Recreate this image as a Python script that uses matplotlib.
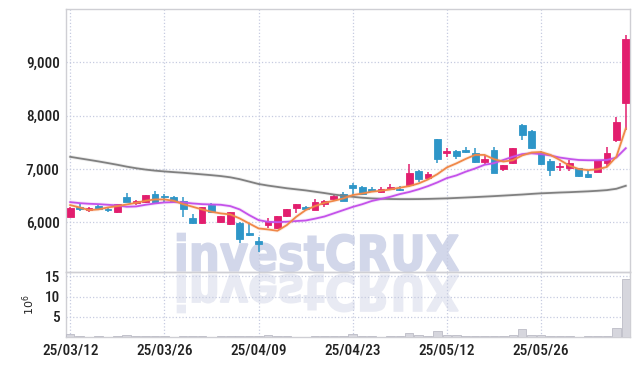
#!/usr/bin/env python3

import matplotlib
matplotlib.use( 'Agg' )
import matplotlib.pyplot as plt
from matplotlib import font_manager
from matplotlib.font_manager import FontProperties
from matplotlib.patches import PathPatch
from matplotlib.textpath import TextPath
from matplotlib.transforms import Affine2D
from matplotlib.ticker import FuncFormatter

# trading days (KRX), one candle each
dates = [
    '25/03/12', '25/03/13', '25/03/14', '25/03/17', '25/03/18', '25/03/19', '25/03/20', '25/03/21',
    '25/03/24', '25/03/25', '25/03/26', '25/03/27', '25/03/28', '25/03/31', '25/04/01', '25/04/02',
    '25/04/03', '25/04/04', '25/04/07', '25/04/08', '25/04/09', '25/04/10', '25/04/11', '25/04/14',
    '25/04/15', '25/04/16', '25/04/17', '25/04/18', '25/04/21', '25/04/22', '25/04/23', '25/04/24',
    '25/04/25', '25/04/28', '25/04/29', '25/04/30', '25/05/02', '25/05/07', '25/05/08', '25/05/09',
    '25/05/12', '25/05/13', '25/05/14', '25/05/15', '25/05/16', '25/05/19', '25/05/20', '25/05/21',
    '25/05/22', '25/05/23', '25/05/26', '25/05/27', '25/05/28', '25/05/29', '25/05/30', '25/06/02',
    '25/06/04', '25/06/05', '25/06/09', '25/06/10',
]

opens = [
    6105, 6293, 6230, 6305, 6255, 6186, 6467, 6361, 6374, 6530,
    6492, 6480, 6405, 6074, 5980, 6324, 6012, 5962, 5993, 5806,
    5650, 5943, 5887, 6124, 6261, 6280, 6230, 6343, 6430, 6530,
    6699, 6655, 6618, 6574, 6618, 6630, 6699, 6967, 6836, 7554,
    7292, 7342, 7355, 7292, 7136, 7354, 7000, 7105, 7822, 7710,
    7310, 7155, 7030, 7023, 7011, 6905, 6949, 7117, 7541, 8247,
]
highs = [
    6290, 6343, 6280, 6320, 6292, 6350, 6542, 6417, 6520, 6592,
    6530, 6500, 6480, 6149, 6290, 6355, 6125, 6200, 5999, 5993,
    5731, 6074, 6125, 6260, 6350, 6305, 6430, 6420, 6510, 6561,
    6743, 6680, 6655, 6655, 6718, 6680, 7092, 6980, 6949, 7570,
    7386, 7360, 7417, 7386, 7261, 7404, 7080, 7400, 7841, 7741,
    7342, 7180, 7117, 7167, 7020, 6980, 7175, 7417, 7979, 9508,
]
lows = [
    6100, 6218, 6186, 6235, 6186, 6180, 6380, 6324, 6370, 6350,
    6386, 6380, 6093, 5970, 5975, 6180, 5990, 5955, 5618, 5750,
    5450, 5887, 5880, 6093, 6168, 6235, 6225, 6293, 6420, 6400,
    6512, 6520, 6574, 6543, 6600, 6593, 6680, 6762, 6820, 7105,
    7217, 7180, 7292, 7120, 7092, 6925, 6967, 7100, 7541, 7367,
    7080, 6867, 6967, 6967, 6860, 6840, 6940, 7030, 7510, 7729,
]
closes = [
    6261, 6243, 6274, 6243, 6230, 6343, 6386, 6392, 6511, 6355,
    6467, 6386, 6243, 5980, 6280, 6186, 6118, 6186, 5687, 5756,
    5587, 6030, 6118, 6249, 6343, 6243, 6387, 6405, 6499, 6405,
    6649, 6530, 6593, 6618, 6668, 6605, 6930, 6811, 6905, 7180,
    7342, 7248, 7317, 7130, 7186, 6930, 7073, 7392, 7635, 7392,
    7092, 6980, 7055, 7117, 6873, 6855, 7167, 7310, 7879, 9446,
]

# volume in millions of shares
volumes = [
    0.65, 0.15, 0.12, 0.15, 0.12, 0.20, 0.40, 0.15, 0.20, 0.25,
    0.15, 0.12, 0.15, 0.20, 0.15, 0.10, 0.15, 0.20, 0.35, 0.20,
    0.30, 0.40, 0.20, 0.15, 0.12, 0.10, 0.15, 0.20, 0.15, 0.20,
    0.65, 0.20, 0.15, 0.12, 0.15, 0.15, 1.10, 0.45, 0.20, 1.60,
    0.60, 0.45, 0.20, 0.15, 0.20, 0.35, 0.20, 0.60, 1.90, 0.60,
    0.40, 0.30, 0.20, 0.15, 0.12, 0.15, 0.35, 0.35, 2.20, 14.40,
]

# moving averages
maShort = [
    6324, 6280, 6230, 6243, 6280, 6305, 6336, 6367, 6405, 6430,
    6430, 6405, 6342, 6293, 6243, 6199, 6168, 6149, 6074, 5980,
    5887, 5868, 5843, 5949, 6105, 6230, 6305, 6367, 6405, 6449,
    6512, 6540, 6575, 6593, 6618, 6650, 6680, 6730, 6805, 6905,
    7030, 7105, 7190, 7265, 7265, 7185, 7140, 7165, 7255, 7310,
    7320, 7265, 7170, 7065, 7000, 6980, 6995, 7040, 7230, 7760,
]
maMid = [
    6380, 6361, 6349, 6342, 6330, 6318, 6293, 6299, 6330, 6355,
    6374, 6380, 6374, 6355, 6342, 6336, 6330, 6305, 6243, 6137,
    6043, 6010, 6005, 6012, 6025, 6035, 6070, 6110, 6170, 6230,
    6290, 6340, 6400, 6440, 6480, 6530, 6570, 6620, 6680, 6750,
    6830, 6880, 6950, 7010, 7080, 7110, 7170, 7230, 7280, 7295,
    7280, 7255, 7215, 7190, 7170, 7165, 7165, 7170, 7215, 7390,
]
maLong = [
    7229, 7200, 7172, 7143, 7112, 7080, 7045, 7015, 6990, 6970,
    6955, 6942, 6930, 6915, 6900, 6885, 6868, 6845, 6810, 6765,
    6720, 6690, 6665, 6640, 6620, 6600, 6575, 6550, 6522, 6500,
    6480, 6462, 6450, 6443, 6438, 6436, 6436, 6437, 6440, 6445,
    6450, 6458, 6466, 6474, 6483, 6492, 6502, 6512, 6522, 6534,
    6545, 6552, 6560, 6566, 6574, 6582, 6592, 6605, 6630, 6686,
]

upColor = '#e21e6e'
downColor = '#2e96c8'
gridColor = '#c6cbe0'
spineColor = '#cfcfd4'

def pickTickFont():
    # prefer a condensed face like the original, otherwise a narrow-ish sans
    installed = { f.name for f in font_manager.fontManager.ttflist }
    for name, size in [ ( 'Liberation Sans Narrow', 11 ), ( 'DejaVu Sans Condensed', 10.3 ),
                        ( 'Roboto Condensed', 11 ), ( 'Roboto', 10 ) ]:
        if name in installed:
            return name, size
    return 'DejaVu Sans', 9.5

tickFont, tickSize = pickTickFont()

def styleAxes( ax ):
    ax.set_facecolor( 'none' )
    for spine in ax.spines.values():
        spine.set_color( spineColor )
        spine.set_linewidth( 1.0 )
    ax.grid( True, linestyle = ':', color = gridColor, linewidth = 0.9 )
    ax.set_axisbelow( True )
    ax.tick_params( length = 0, pad = 4.5, labelsize = tickSize, labelcolor = '#222222' )
    for label in ax.get_xticklabels() + ax.get_yticklabels():
        label.set_family( tickFont )
        label.set_weight( 'medium' )

def addWatermark( fig ):
    path = TextPath( ( 0, 0 ), 'investCRUX', size = 100,
                     prop = FontProperties( family = 'DejaVu Sans', weight = 'bold' ) )
    ext = path.get_extents()
    sx = 281 / ext.width
    sy = 38 / ext.height
    toInches = Affine2D().scale( 1 / fig.dpi ) + fig.dpi_scale_trans
    base = Affine2D().translate( -ext.x0, -ext.y0 )
    front = base + Affine2D().scale( sx, sy ).translate( 177.5, 366 - 271.5 ) + toInches
    mirror = base + Affine2D().scale( sx, -sy ).translate( 177.5, 366 - 274.5 ) + toInches
    fig.add_artist( PathPatch( path, transform = front, facecolor = '#d2d7ea',
                               edgecolor = '#d2d7ea', linewidth = 1.2, zorder = -1 ) )
    fig.add_artist( PathPatch( path, transform = mirror, facecolor = '#e8eaf3',
                               edgecolor = '#e8eaf3', linewidth = 1.2, zorder = -1 ) )

fig = plt.figure( figsize = ( 6.39, 3.66 ), dpi = 100 )
ax = fig.add_axes( [ 66 / 639, 94 / 366, 564 / 639, 263 / 366 ] )
axVol = fig.add_axes( [ 66 / 639, 29 / 366, 564 / 639, 65 / 366 ], sharex = ax )

addWatermark( fig )

xs = list( range( len( dates ) ) )

# candles
for i in xs:
    color = upColor if closes[i] >= opens[i] else downColor
    ax.vlines( i, lows[i], highs[i], color = color, linewidth = 1.1, zorder = 3 )
    bottom = min( opens[i], closes[i] )
    height = max( abs( closes[i] - opens[i] ), 12 )
    ax.bar( i, height, bottom = bottom, width = 0.72, color = color,
            edgecolor = color, linewidth = 0.6, zorder = 4 )

# moving averages, with a faint halo like the original
for values, color in [ ( maLong, '#808080' ), ( maMid, '#c452ea' ), ( maShort, '#f08848' ) ]:
    ax.plot( xs, values, color = color, linewidth = 2.6, alpha = 0.14, zorder = 5,
             solid_capstyle = 'round' )
    ax.plot( xs, values, color = color, linewidth = 1.3, zorder = 5 )

ax.set_xlim( -0.45, len( dates ) - 0.55 )
ax.set_ylim( 5070, 10000 )
ax.set_yticks( [ 6000, 7000, 8000, 9000 ] )
ax.yaxis.set_major_formatter( FuncFormatter( lambda v, p: f'{int( v ):,}' ) )
ax.set_xticks( xs[::10] )
ax.tick_params( axis = 'x', labelbottom = False )
styleAxes( ax )

axVol.bar( xs, volumes, width = 0.9, color = '#d6d6dd', edgecolor = '#bcbcc6',
           linewidth = 0.6, zorder = 3 )
axVol.set_ylim( 0, 16.1 )
axVol.set_yticks( [ 5, 10, 15 ] )
axVol.set_xticks( xs[::10] )
axVol.set_xticklabels( dates[::10] )
axVol.set_ylabel( r'$10^{6}$', fontsize = 8, color = '#222222' )
axVol.yaxis.set_label_coords( -0.0514, 0.5 )
styleAxes( axVol )

fig.savefig( 'out.png', dpi = 100 )
